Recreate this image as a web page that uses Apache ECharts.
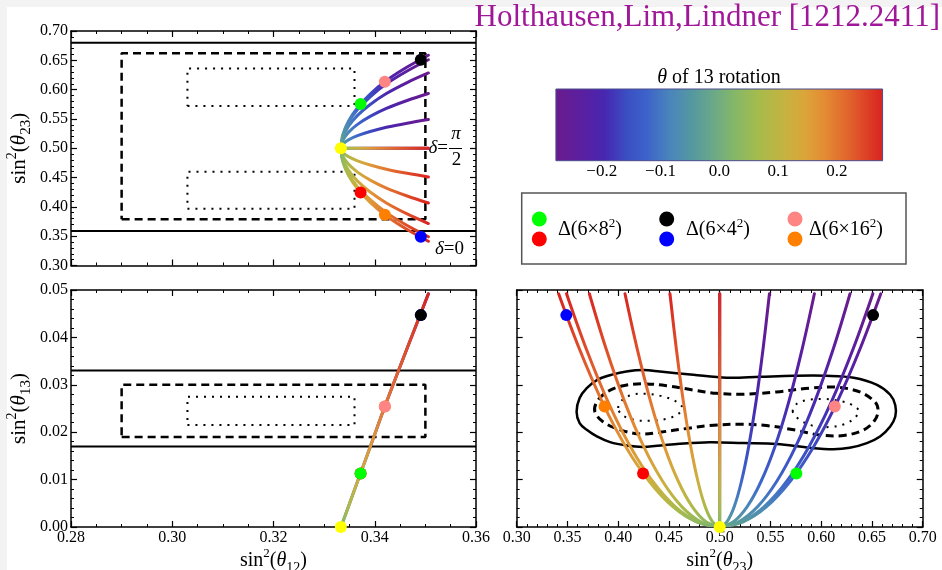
<!DOCTYPE html>
<html><head><meta charset="utf-8">
<script src="https://cdn.jsdelivr.net/npm/echarts@6.0.0/dist/echarts.min.js"></script>
<style>html,body{margin:0;padding:0;background:#fff;}#chart{width:942px;height:570px;}</style>
</head><body><div id="chart"></div>
<script>
// ================= data =================
// rotation angle theta of the 13 rotation (colour variable) at the sampled curve points
const theta = [-0.275,-0.24,-0.20,-0.16,-0.12,-0.08,-0.04,0,0.04,0.08,0.12,0.16,0.20,0.24,0.275];
const s12Curve = [0.3506,0.3464,0.3423,0.3391,0.3366,0.3348,0.3337,0.3333,0.3337,0.3348,0.3366,0.3391,0.3423,0.3464,0.3506];
const s13Curve = [0.0492,0.0377,0.0263,0.0169,0.0096,0.0043,0.0011,0,0.0011,0.0043,0.0096,0.0169,0.0263,0.0377,0.0492];
// sin^2(theta23) along each curve (delta = 0, 0.1pi, 0.2pi, 0.3pi, 0.4pi, 0.5pi)
const s23Delta0   = [0.6587,0.6385,0.6155,0.5924,0.5693,0.5462,0.5231,0.5,0.4769,0.4538,0.4307,0.4076,0.3845,0.3615,0.3413];
const s23Delta01  = [0.6509,0.6317,0.6098,0.5878,0.5659,0.5439,0.5220,0.5,0.4780,0.4561,0.4341,0.4122,0.3902,0.3683,0.3491];
const s23Delta02  = [0.6284,0.6121,0.5934,0.5747,0.5561,0.5374,0.5187,0.5,0.4813,0.4626,0.4439,0.4253,0.4066,0.3879,0.3716];
const s23Delta03  = [0.5933,0.5814,0.5679,0.5543,0.5407,0.5271,0.5136,0.5,0.4864,0.4729,0.4593,0.4457,0.4321,0.4186,0.4067];
const s23Delta04  = [0.5490,0.5428,0.5357,0.5285,0.5214,0.5143,0.5071,0.5,0.4929,0.4857,0.4786,0.4715,0.4643,0.4572,0.4510];
const s23Delta05  = [0.5,0.5,0.5,0.5,0.5,0.5,0.5,0.5,0.5,0.5,0.5,0.5,0.5,0.5,0.5];
const s23Curves = [s23Delta0, s23Delta01, s23Delta02, s23Delta03, s23Delta04, s23Delta05];

// group points: green, red, black, blue, pink, orange, yellow(TBM)
const markerNames = ['Δ(6×8²) a','Δ(6×8²) b','Δ(6×4²) a','Δ(6×4²) b','Δ(6×16²) a','Δ(6×16²) b','TBM'];
const markerS12 = [0.3372,0.3372,0.3491,0.3491,0.3420,0.3420,0.3333];
const markerS13 = [0.0113,0.0113,0.0447,0.0447,0.0254,0.0254,0.0];
const markerS23 = [0.5755,0.4245,0.6511,0.3489,0.6134,0.3866,0.5];

// experimental ranges
const s23Bound3s = [0.359, 0.680];
const s13Bound3s = [0.017, 0.033];
const box2sS12 = [0.29, 0.35];
const box2sS23 = [0.379, 0.662];
const box2sS13 = [0.019, 0.030];
const box1sS12 = [0.303, 0.336];
const box1sS23Upper = [0.572, 0.636];
const box1sS23Lower = [0.397, 0.460];
const box1sS13 = [0.0215, 0.0275];

// contours in the (sin^2 theta23, sin^2 theta13) plane
const contourSolidS23 = [0.359,0.362,0.369,0.379,0.395,0.408,0.425,0.441,0.474,0.507,0.540,0.573,0.605,0.632,0.655,0.668,0.673,0.673,0.668,0.658,0.645,0.628,0.612,0.589,0.556,0.523,0.490,0.458,0.425,0.408,0.392,0.379,0.369,0.362];
const contourSolidS13 = [0.0243,0.0272,0.0293,0.0310,0.0322,0.0328,0.0331,0.0328,0.0321,0.0315,0.0317,0.0319,0.0319,0.0315,0.0300,0.0279,0.0257,0.0233,0.0212,0.0191,0.0177,0.0167,0.0164,0.0167,0.0175,0.0177,0.0179,0.0175,0.0169,0.0172,0.0179,0.0191,0.0205,0.0219];
const contourDashedS23 = [0.377,0.379,0.389,0.405,0.425,0.448,0.474,0.497,0.523,0.556,0.589,0.615,0.638,0.653,0.656,0.653,0.642,0.622,0.599,0.573,0.546,0.520,0.490,0.468,0.441,0.422,0.402,0.385];
const contourDashedS13 = [0.0243,0.0264,0.0285,0.0298,0.0302,0.0298,0.0289,0.0282,0.0280,0.0285,0.0293,0.0295,0.0285,0.0264,0.0247,0.0226,0.0205,0.0193,0.0194,0.0205,0.0214,0.0217,0.0214,0.0208,0.0200,0.0196,0.0205,0.0222];
const contourDotLS23 = [0.400,0.404,0.414,0.427,0.443,0.456,0.463,0.459,0.447,0.431,0.416,0.404];
const contourDotLS13 = [0.0251,0.0268,0.0279,0.0281,0.0276,0.0266,0.0253,0.0238,0.0228,0.0224,0.0226,0.0236];
const contourDotRS23 = [0.572,0.576,0.587,0.603,0.619,0.631,0.637,0.633,0.623,0.609,0.593,0.579];
const contourDotRS13 = [0.0243,0.0260,0.0268,0.0270,0.0266,0.0257,0.0245,0.0230,0.0217,0.0211,0.0213,0.0226];

// axes
const s12Range = [0.28, 0.36], s12Step = 0.02;
const s23TopRange = [0.30, 0.70], s23TopStep = 0.05;
const s13Range = [0.00, 0.05], s13Step = 0.01;
const s23BotRange = [0.30, 0.70], s23BotStep = 0.05;
const colorbarAxisRange = [-0.3, 0.3], colorbarStep = 0.1;
const colorbarRange = [-0.278, 0.278];
const colorbarTitle = 'of 13 rotation';
const titleText = 'Holthausen,Lim,Lindner [1212.2411]';
const legendLabels = ['8','4','16'];

// ================= styles =================
const FONT = "'Liberation Serif','Times New Roman',serif";
const markerColors = ['#00ff00','#ff0000','#000000','#0000ff','#ff8484','#ff8000','#ffff00'];
const markerOrder = [1,3,5,0,2,4,6];
const rainbowStops = [[0,'#6b1b8c'],[0.08,'#5a1fa0'],[0.15,'#4727b0'],[0.22,'#3b4fc4'],[0.28,'#3d63c9'],[0.35,'#4a85bb'],[0.42,'#55999f'],[0.5,'#72ad80'],[0.55,'#86b866'],[0.62,'#a6bb4c'],[0.70,'#c5b340'],[0.76,'#dba53a'],[0.82,'#e48c33'],[0.90,'#e0612c'],[1,'#d92120']];

function hexToRgb(h){return [parseInt(h.slice(1,3),16),parseInt(h.slice(3,5),16),parseInt(h.slice(5,7),16)];}
function colorAt(th){
  let t=(th-colorbarRange[0])/(colorbarRange[1]-colorbarRange[0]);
  t=Math.max(0,Math.min(1,t));
  for(let i=1;i<rainbowStops.length;i++){
    if(t<=rainbowStops[i][0]){
      const a=rainbowStops[i-1], b=rainbowStops[i];
      const f=(t-a[0])/(b[0]-a[0]);
      const ca=hexToRgb(a[1]), cb=hexToRgb(b[1]);
      return 'rgb('+ca.map((v,k)=>Math.round(v+(cb[k]-v)*f)).join(',')+')';
    }
  }
  return rainbowStops[rainbowStops.length-1][1];
}

function makeNameStyle(fs){
  return {color:'#000', fontFamily:FONT, fontSize:fs, rich:{
    m:{fontFamily:FONT,fontSize:fs,lineHeight:fs+8,color:'#000'},
    sp:{fontFamily:FONT,fontSize:Math.round(fs*0.65),verticalAlign:'top',color:'#000'},
    it:{fontFamily:FONT,fontSize:fs,fontStyle:'italic',lineHeight:fs+8,color:'#000'},
    sb:{fontFamily:FONT,fontSize:Math.round(fs*0.7),verticalAlign:'bottom',color:'#000'}
  }};
}
function sinName(sub){ return '{m|sin}{sp|2}{m|(}{it|θ}{sb|'+sub+'}{m|)}'; }

function axis(gridIndex, position, range, step, minorSplit, labels, extra){
  return Object.assign({
    type:'value', gridIndex, position, min:range[0], max:range[1], interval:step,
    axisLine:{show:true,onZero:false,lineStyle:{color:'#000',width:1.5}},
    axisTick:{show:true,inside:true,length:6,lineStyle:{color:'#000',width:1.2}},
    minorTick:{show:true,splitNumber:minorSplit,length:3,lineStyle:{color:'#000',width:1}},
    splitLine:{show:false}, minorSplitLine:{show:false},
    axisLabel:{show:labels,color:'#000',fontFamily:FONT,fontSize:16,margin:3,formatter:v=>v.toFixed(2)}
  }, extra||{});
}

const zeroIdx = theta.indexOf(0);
function curveSeries(xi, yi, curves){
  const halves=[];
  const neg=[], pos=[];
  for(let i=zeroIdx;i>=0;i--) neg.push(i);
  for(let i=zeroIdx;i<theta.length;i++) pos.push(i);
  curves.forEach(c=>halves.push({x:c.x,y:c.y,idx:neg}));
  curves.forEach(c=>halves.push({x:c.x,y:c.y,idx:pos}));
  return {type:'custom', xAxisIndex:xi, yAxisIndex:yi, clip:true, z:3, silent:true,
    data: halves.map(h=>[h.x[h.idx[0]], h.y[h.idx[0]]]),
    renderItem:(params, api)=>{
      const h=halves[params.dataIndex];
      const pts=h.idx.map(i=>api.coord([h.x[i], h.y[i]]));
      const p0=pts[0], pN=pts[pts.length-1];
      const dx=pN[0]-p0[0], dy=pN[1]-p0[1];
      const L2=(dx*dx+dy*dy)||1;
      let last=0;
      const stops=pts.map((p,j)=>{
        let o=((p[0]-p0[0])*dx+(p[1]-p0[1])*dy)/L2;
        o=Math.max(last,Math.min(1,Math.max(0,o))); last=o;
        return {offset:o,color:colorAt(theta[h.idx[j]])};
      });
      return {type:'polyline', shape:{points:pts, smooth:0.35},
        style:{fill:null, stroke:new echarts.graphic.LinearGradient(p0[0],p0[1],pN[0],pN[1],stops,true), lineWidth:3, lineCap:'round', lineJoin:'round'}};
    }};
}
function markerSeries(xi, yi, xs, ys){
  return {type:'scatter', xAxisIndex:xi, yAxisIndex:yi, z:6, symbolSize:12, silent:true,
    data: markerOrder.map(i=>({name:markerNames[i], value:[xs[i],ys[i]], itemStyle:{color:markerColors[i], opacity:1}}))};
}
function rectPts(xr, yr){ return [[xr[0],yr[0]],[xr[1],yr[0]],[xr[1],yr[1]],[xr[0],yr[1]],[xr[0],yr[0]]]; }
function lineSeries(xi, yi, pts, type, width){
  return {type:'line', xAxisIndex:xi, yAxisIndex:yi, data:pts, symbol:'none', showSymbol:false, silent:true, z:2,
    lineStyle:{color:'#000', width, type}};
}
function contourSeries(xi, yi, contours){
  return {type:'custom', xAxisIndex:xi, yAxisIndex:yi, z:2, silent:true,
    data: contours.map(c=>[c.x[0],c.y[0]]),
    renderItem:(params, api)=>{
      const c=contours[params.dataIndex];
      const pts=c.x.map((x,i)=>api.coord([x,c.y[i]]));
      return {type:'polygon', shape:{points:pts, smooth:0.35},
        style:{fill:'none', stroke:'#000', lineWidth:c.w, lineDash:c.dash}};
    }};
}

const chart = echarts.init(document.getElementById('chart'), null, {renderer:'canvas', width:942, height:570});

const curvesA = s23Curves.map(s23=>({x:s12Curve, y:s23}));
const curvesB = [{x:s12Curve, y:s13Curve}];
const curvesC = s23Curves.map(s23=>({x:s23, y:s13Curve}));
const xNameStyle = makeNameStyle(20);
const yNameStyle = makeNameStyle(21);

const option = {
  animation:false,
  backgroundColor:'#ffffff',
  grid:[
    {left:71, top:31, width:405, height:234.5, outerBoundsMode:'none'},
    {left:71, top:290, width:405, height:237, outerBoundsMode:'none'},
    {left:516.7, top:290, width:406, height:237, outerBoundsMode:'none'},
    {left:543, top:89, width:352.5, height:71.7, outerBoundsMode:'none'}
  ],
  xAxis:[
    axis(0,'bottom',s12Range,s12Step,4,false),
    axis(0,'top',s12Range,s12Step,4,false),
    axis(1,'bottom',s12Range,s12Step,4,true,{name:sinName('12'),nameLocation:'middle',nameGap:18,nameTextStyle:xNameStyle}),
    axis(1,'top',s12Range,s12Step,4,false),
    axis(2,'bottom',s23BotRange,s23BotStep,5,true,{name:sinName('23'),nameLocation:'middle',nameGap:18,nameTextStyle:xNameStyle}),
    axis(2,'top',s23BotRange,s23BotStep,5,false),
    {type:'value', gridIndex:3, min:colorbarAxisRange[0], max:colorbarAxisRange[1], interval:colorbarStep,
      axisLine:{show:false}, axisTick:{show:false}, splitLine:{show:false},
      axisLabel:{color:'#000',fontFamily:FONT,fontSize:17,margin:2,
        formatter:v=>Math.abs(v)>0.25?'':(v<-1e-9?'−':'')+Math.abs(v).toFixed(1)}}
  ],
  yAxis:[
    axis(0,'left',s23TopRange,s23TopStep,5,true,{name:sinName('23'),nameLocation:'middle',nameGap:37,nameRotate:90,nameTextStyle:yNameStyle}),
    axis(0,'right',s23TopRange,s23TopStep,5,false),
    axis(1,'left',s13Range,s13Step,5,true,{name:sinName('13'),nameLocation:'middle',nameGap:37,nameRotate:90,nameTextStyle:yNameStyle}),
    axis(1,'right',s13Range,s13Step,5,false),
    axis(2,'left',s13Range,s13Step,5,false),
    axis(2,'right',s13Range,s13Step,5,false),
    {type:'value', gridIndex:3, min:0, max:1, show:false}
  ],
  series:[
    // top-left panel
    lineSeries(0,0,[[s12Range[0],s23Bound3s[0]],[s12Range[1],s23Bound3s[0]]],'solid',2),
    lineSeries(0,0,[[s12Range[0],s23Bound3s[1]],[s12Range[1],s23Bound3s[1]]],'solid',2),
    lineSeries(0,0,rectPts(box2sS12,box2sS23),[8,5],2.5),
    lineSeries(0,0,rectPts(box1sS12,box1sS23Upper),[2,6],2),
    lineSeries(0,0,rectPts(box1sS12,box1sS23Lower),[2,6],2),
    curveSeries(0,0,curvesA),
    markerSeries(0,0,markerS12,markerS23),
    // bottom-left panel
    lineSeries(2,2,[[s12Range[0],s13Bound3s[0]],[s12Range[1],s13Bound3s[0]]],'solid',2),
    lineSeries(2,2,[[s12Range[0],s13Bound3s[1]],[s12Range[1],s13Bound3s[1]]],'solid',2),
    lineSeries(2,2,rectPts(box2sS12,box2sS13),[8,5],2.5),
    lineSeries(2,2,rectPts(box1sS12,box1sS13),[2,6],2),
    curveSeries(2,2,curvesB),
    markerSeries(2,2,markerS12,markerS13),
    // bottom-right panel
    contourSeries(4,4,[
      {x:contourSolidS23,y:contourSolidS13,w:2.5,dash:null},
      {x:contourDashedS23,y:contourDashedS13,w:3,dash:[8,5]},
      {x:contourDotLS23,y:contourDotLS13,w:2,dash:[2,6]},
      {x:contourDotRS23,y:contourDotRS13,w:2,dash:[2,6]}
    ]),
    curveSeries(4,4,curvesC),
    markerSeries(4,4,markerS23,markerS13),
    // colour bar
    {type:'custom', xAxisIndex:6, yAxisIndex:6, silent:true, data:[[colorbarRange[0],0]],
      renderItem:(params, api)=>{
        const a=api.coord([colorbarRange[0],1]), b=api.coord([colorbarRange[1],0]);
        return {type:'rect', shape:{x:a[0],y:a[1],width:b[0]-a[0],height:b[1]-a[1]},
          style:{fill:new echarts.graphic.LinearGradient(0,0,1,0,rainbowStops.map(s=>({offset:s[0],color:s[1]}))), stroke:'#4c4c8c', lineWidth:1}};
      }}
  ],
  graphic:[
    {type:'rect', silent:true, z:-10, shape:{x:0,y:0,width:942,height:7}, style:{fill:'#f3f3f3'}},
    {type:'rect', silent:true, z:-10, shape:{x:0,y:0,width:7,height:570}, style:{fill:'#f3f3f3'}},
    {type:'text', silent:true, style:{x:940,y:2,text:titleText,font:"31px 'Liberation Serif'",fill:'#a0179a',align:'right',textAlign:'right',verticalAlign:'top',textVerticalAlign:'top'}},
    {type:'text', silent:true, style:{x:719,y:78,text:'{i|θ} '+colorbarTitle,font:"20px 'Liberation Serif'",fill:'#000',align:'center',textAlign:'center',verticalAlign:'middle',textVerticalAlign:'middle',
      rich:{i:{fontStyle:'italic',fontSize:20,fontFamily:'Liberation Serif'}}}},
    // delta labels
    {type:'text', silent:true, style:{x:448,y:148,text:'{i|δ}=',font:"19px 'Liberation Serif'",fill:'#000',align:'right',textAlign:'right',verticalAlign:'middle',textVerticalAlign:'middle',rich:{i:{fontStyle:'italic',fontSize:19,fontFamily:'Liberation Serif'}}}},
    {type:'text', silent:true, style:{x:456,y:134,text:'π',font:"italic 19px 'Liberation Serif'",fill:'#000',align:'center',textAlign:'center',verticalAlign:'middle',textVerticalAlign:'middle'}},
    {type:'line', silent:true, shape:{x1:449,y1:148.5,x2:462,y2:148.5}, style:{stroke:'#000',lineWidth:1}},
    {type:'text', silent:true, style:{x:456.5,y:160,text:'2',font:"19px 'Liberation Serif'",fill:'#000',align:'center',textAlign:'center',verticalAlign:'middle',textVerticalAlign:'middle'}},
    {type:'text', silent:true, style:{x:435,y:249,text:'{i|δ}=0',font:"19px 'Liberation Serif'",fill:'#000',align:'left',textAlign:'left',verticalAlign:'middle',textVerticalAlign:'middle',rich:{i:{fontStyle:'italic',fontSize:19,fontFamily:'Liberation Serif'}}}},
    // legend box
    {type:'rect', silent:true, shape:{x:521.7,y:193,width:384.3,height:71}, style:{fill:'#fff',stroke:'#555',lineWidth:1.5}},
    {type:'circle', silent:true, shape:{cx:539.3,cy:219,r:7.5}, style:{fill:markerColors[0]}},
    {type:'circle', silent:true, shape:{cx:539.3,cy:239,r:7.5}, style:{fill:markerColors[1]}},
    {type:'circle', silent:true, shape:{cx:666.7,cy:219,r:7.5}, style:{fill:markerColors[2]}},
    {type:'circle', silent:true, shape:{cx:666.7,cy:239,r:7.5}, style:{fill:markerColors[3]}},
    {type:'circle', silent:true, shape:{cx:795,cy:219,r:7.5}, style:{fill:markerColors[4]}},
    {type:'circle', silent:true, shape:{cx:795,cy:239,r:7.5}, style:{fill:markerColors[5]}},
    ...[[558,legendLabels[0]],[686,legendLabels[1]],[809,legendLabels[2]]].map(([x,n])=>({type:'text', silent:true,
      style:{x:x,y:230,text:'{m|Δ(6×'+n+'}{s|2}{m|)}',fill:'#000',align:'left',textAlign:'left',verticalAlign:'middle',textVerticalAlign:'middle',
        rich:{m:{fontSize:20,fontFamily:'Liberation Serif',lineHeight:26},s:{fontSize:13,fontFamily:'Liberation Serif',verticalAlign:'top'}}}}))
  ]
};
chart.setOption(option);
</script>
</body></html>
